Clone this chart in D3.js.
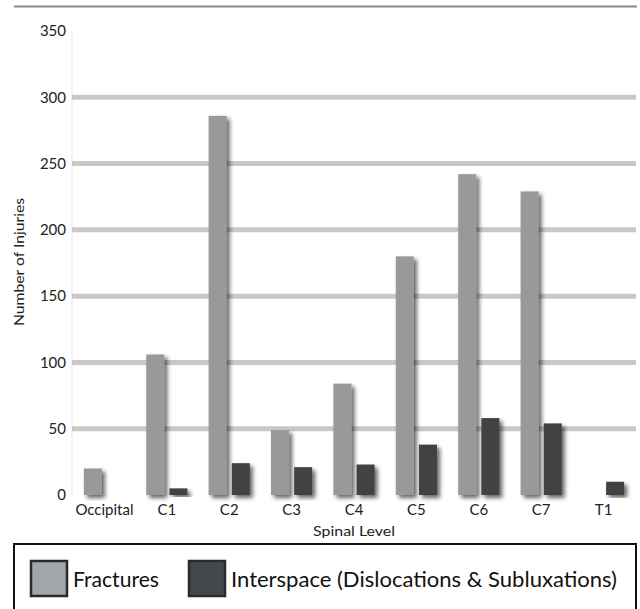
<!DOCTYPE html>
<html><head><meta charset="utf-8">
<script src="https://cdn.jsdelivr.net/npm/d3@7/dist/d3.min.js"></script>
<style>body{margin:0;background:#fff;}svg{display:block;font-family:Lato,"Noto Sans",sans-serif;}</style>
</head><body>
<svg id="c" width="640" height="609"></svg>
<script>
const categories = ["Occipital","C1","C2","C3","C4","C5","C6","C7","T1"];
const fractures = [20,106,286,49,84,180,242,229,0];
const interspace = [0,5,24,21,23,38,58,54,10];
const seriesNames = ["Fractures","Interspace (Dislocations & Subluxations)"];
const yTicks = [0,50,100,150,200,250,300,350];
const gridTicks = [50,100,150,200,250,300];

const colors = ["#999999","#434343"];
const legendColors = ["#a2a6a8","#44484a"];

const svg = d3.select("#c");
const defs = svg.append("defs");
const f = defs.append("filter").attr("id","sh").attr("x","-50%").attr("y","-10%").attr("width","200%").attr("height","130%");
f.append("feDropShadow").attr("dx",3).attr("dy",3).attr("stdDeviation",2).attr("flood-color","#000").attr("flood-opacity",0.6);

const x = d3.scaleBand().domain(categories).range([72,636]).paddingInner(0.34).paddingOuter(0.19);
const xs = d3.scaleBand().domain([0,1]).range([0,x.bandwidth()]).paddingInner(0.22);
const y = d3.scaleLinear().domain([0,350]).range([495,31]);

// top rule
svg.append("line").attr("x1",14).attr("x2",637).attr("y1",6.5).attr("y2",6.5).attr("stroke","#888").attr("stroke-width",2);

// y axis faint line
svg.append("line").attr("x1",72).attr("x2",72).attr("y1",y(350)).attr("y2",y(0)).attr("stroke","#e4e4e4").attr("stroke-width",1);

// gridlines
svg.append("g").selectAll("line").data(gridTicks).join("line")
  .attr("x1",72).attr("x2",636).attr("y1",d=>y(d)).attr("y2",d=>y(d))
  .attr("stroke","#c8c8c8").attr("stroke-width",5);

// right border
svg.append("line").attr("x1",637).attr("x2",637).attr("y1",y(350)).attr("y2",y(0))
  .attr("stroke","#6a6a6a").attr("stroke-width",3).attr("filter","url(#sh)");

// y tick labels
const yAxis = d3.axisLeft(y).tickValues(yTicks).tickSize(0).tickPadding(6);
const ga = svg.append("g").attr("transform","translate(72,0)").call(yAxis);
ga.select(".domain").remove();
ga.selectAll("text").attr("font-size",15).attr("fill","#222").attr("font-family","Lato,sans-serif");

// bars
const data = [fractures, interspace];
const bars = svg.append("g");
data.forEach((vals,si)=>{
  bars.append("g").selectAll("rect").data(categories.map((c,i)=>({c,v:vals[i]})).filter(d=>d.v>0)).join("rect")
    .attr("x",d=>x(d.c)+xs(si)).attr("width",xs.bandwidth())
    .attr("y",d=>y(d.v)).attr("height",d=>y(0)-y(d.v))
    .attr("fill",colors[si]).attr("filter","url(#sh)");
});

// baseline
svg.append("line").attr("x1",72).attr("x2",636).attr("y1",y(0)).attr("y2",y(0))
  .attr("stroke","#333").attr("stroke-width",2).attr("filter","url(#sh)");

// x labels
const xAxis = d3.axisBottom(x).tickSize(0).tickPadding(9);
const gx = svg.append("g").attr("transform",`translate(0,${y(0)})`).call(xAxis);
gx.select(".domain").remove();
gx.selectAll("text").attr("font-size",15).attr("fill","#222").attr("font-family","Lato,sans-serif");

// axis titles
svg.append("text").attr("x",354).attr("y",536).attr("text-anchor","middle").attr("font-size",14)
  .attr("textLength",82).attr("lengthAdjust","spacingAndGlyphs").attr("fill","#222").text("Spinal Level");
svg.append("text").attr("transform","translate(24,262) rotate(-90)").attr("text-anchor","middle").attr("font-size",14)
  .attr("textLength",128).attr("lengthAdjust","spacingAndGlyphs").attr("fill","#222").text("Number of Injuries");

// legend
svg.append("rect").attr("x",14).attr("y",544).attr("width",622).attr("height",90).attr("fill","#fff").attr("stroke","#111").attr("stroke-width",2);
const lx = [31,189];
const lLen = [86,386];
seriesNames.forEach((n,i)=>{
  svg.append("rect").attr("x",lx[i]).attr("y",561).attr("width",36).attr("height",35)
    .attr("fill",legendColors[i]).attr("stroke","#2a2a2a").attr("stroke-width",2.5);
  svg.append("text").attr("x",lx[i]+42).attr("y",587).attr("font-size",21)
    .attr("textLength",lLen[i]).attr("lengthAdjust","spacingAndGlyphs").attr("fill","#111").text(n);
});
</script>
</body></html>
